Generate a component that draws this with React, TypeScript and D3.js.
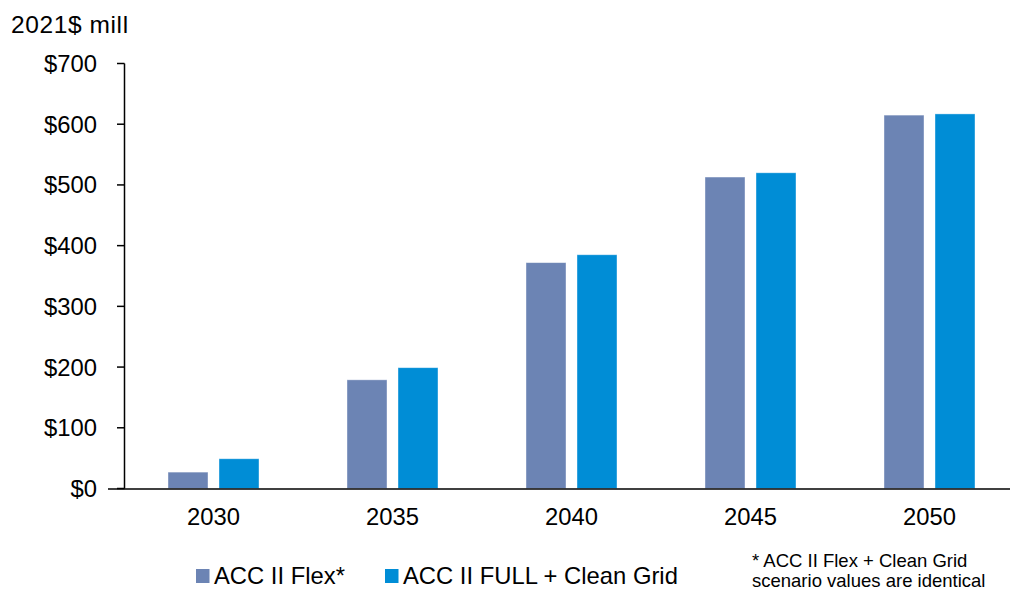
import React from "react";
import * as d3 from "d3";

// Annual values, 2021$ millions
const years = ["2030", "2035", "2040", "2045", "2050"];
const flexValues = [27, 179, 372, 513, 615];
const fullValues = [49, 199, 385, 520, 617];
const seriesNames = ["ACC II Flex*", "ACC II FULL + Clean Grid"];
const seriesColors = ["#6c84b4", "#008dd6"];
const yTicks = [0, 100, 200, 300, 400, 500, 600, 700];
const footnote = ["* ACC II Flex + Clean Grid", "scenario values are identical"];

const W = 1010;
const H = 590;
const FONT = "'Liberation Sans', Arial, sans-serif";
const FS = 23.8;

export default function App() {
  const x = d3.scaleBand<string>().domain(years).range([124, 1019]).padding(0);
  const y = d3.scaleLinear().domain([0, 700]).range([488.5, 63.5]);
  const barW = 40;
  const gap = 11;
  const fmt = (v: number) => "$" + d3.format("d")(v);

  const series = [flexValues, fullValues];

  return (
    <svg
      width={W}
      height={H}
      style={{ position: "absolute", left: 0, top: 0, display: "block", background: "#fff" }}
      fontFamily={FONT}
    >
      <text x={11} y={33} fontSize={24.5} letterSpacing={0.6} fill="#000">2021$ mill</text>

      {/* bars */}
      {series.map((vals, si) =>
        vals.map((v, i) => {
          const c = (x(years[i]) as number) + x.bandwidth() / 2;
          const left = si === 0 ? c - gap / 2 - barW : c + gap / 2;
          return (
            <rect
              key={`${si}-${i}`}
              x={left}
              y={y(v)}
              width={barW}
              height={y(0) - y(v)}
              fill={seriesColors[si]}
              stroke="#ffffff"
              strokeOpacity={0.5}
              strokeWidth={0.8}
            />
          );
        })
      )}

      {/* y axis */}
      <line x1={124.5} x2={124.5} y1={y(700)} y2={y(0)} stroke="#000" strokeWidth={1.5} />
      {yTicks.map((t) => (
        <g key={t}>
          <line x1={117} x2={124.5} y1={y(t)} y2={y(t)} stroke="#000" strokeWidth={1.5} />
          <text x={97} y={y(t)} dy="0.36em" textAnchor="end" fontSize={FS} fill="#000">
            {fmt(t)}
          </text>
        </g>
      ))}

      {/* x axis */}
      <line x1={108} x2={W} y1={y(0) + 0.5} y2={y(0) + 0.5} stroke="#000" strokeWidth={1.5} />
      {years.map((yr) => (
        <text
          key={yr}
          x={(x(yr) as number) + x.bandwidth() / 2}
          y={525}
          textAnchor="middle"
          fontSize={FS}
          fill="#000"
        >
          {yr}
        </text>
      ))}

      {/* legend */}
      {[196, 385].map((lx, i) => (
        <g key={i}>
          <rect x={lx} y={569} width={13.5} height={14} fill={seriesColors[i]} />
          <text x={lx + 18} y={584} fontSize={FS} fill="#000">{seriesNames[i]}</text>
        </g>
      ))}

      {/* footnote */}
      {footnote.map((line, i) => (
        <text key={i} x={752} y={567 + i * 20} fontSize={18.5} fill="#000">{line}</text>
      ))}
    </svg>
  );
}
